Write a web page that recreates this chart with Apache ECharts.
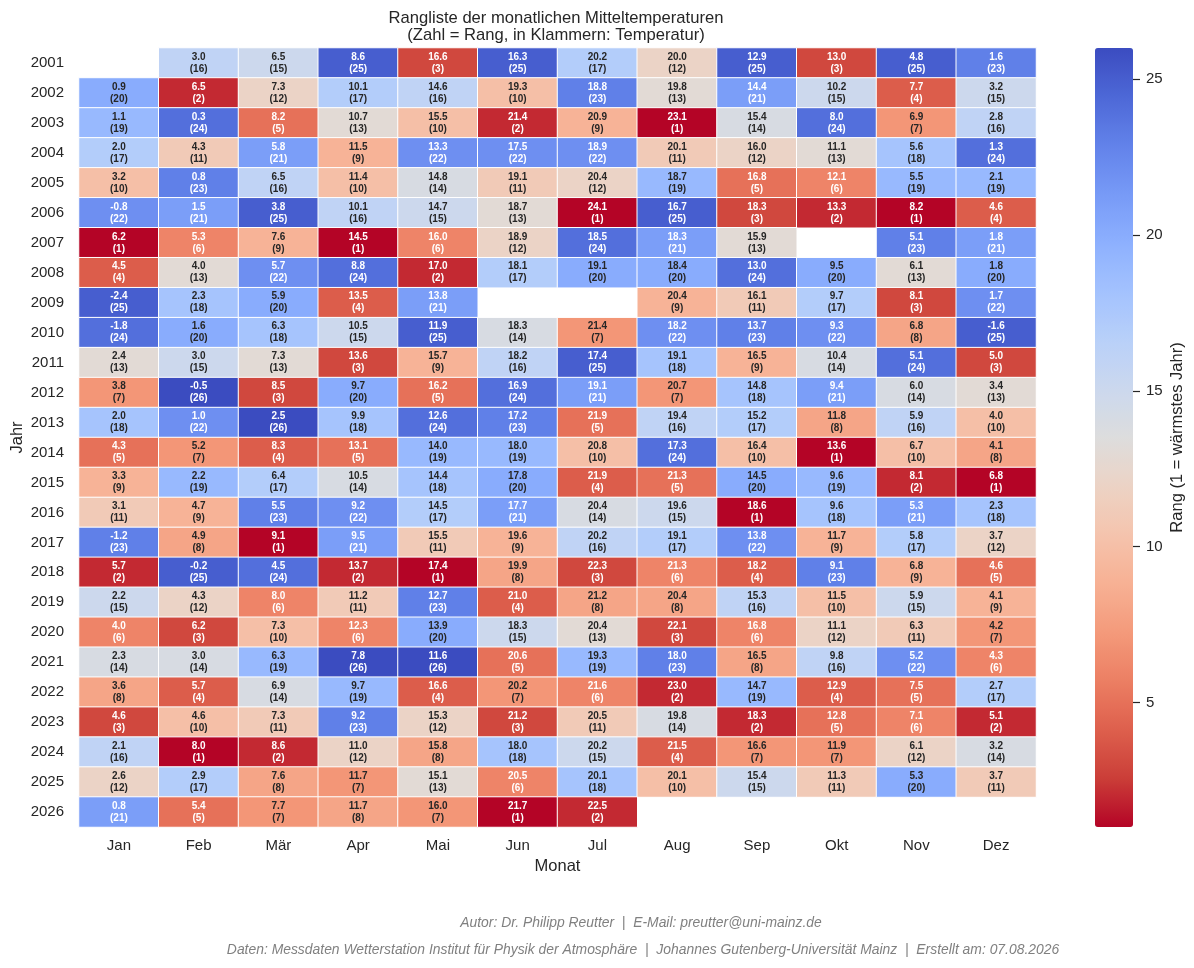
<!DOCTYPE html>
<html>
<head>
<meta charset="utf-8">
<script src="https://cdn.jsdelivr.net/npm/echarts@6/dist/echarts.min.js"></script>
<style>
html,body{margin:0;padding:0;background:#fff;}
#chart{width:1194px;height:968px;}
</style>
</head>
<body>
<div id="chart"></div>
<script>
const months = ['Jan','Feb','Mär','Apr','Mai','Jun','Jul','Aug','Sep','Okt','Nov','Dez'];
const years = ['2001','2002','2003','2004','2005','2006','2007','2008','2009','2010','2011','2012','2013',
  '2014','2015','2016','2017','2018','2019','2020','2021','2022','2023','2024','2025','2026'];
const colorbarTicks = [5, 10, 15, 20, 25];

// Monthly mean temperatures (°C), one row per year
const temperatures = [
  [null,3.0,6.5,8.6,16.6,16.3,20.2,20.0,12.9,13.0,4.8,1.6],
  [0.9,6.5,7.3,10.1,14.6,19.3,18.8,19.8,14.4,10.2,7.7,3.2],
  [1.1,0.3,8.2,10.7,15.5,21.4,20.9,23.1,15.4,8.0,6.9,2.8],
  [2.0,4.3,5.8,11.5,13.3,17.5,18.9,20.1,16.0,11.1,5.6,1.3],
  [3.2,0.8,6.5,11.4,14.8,19.1,20.4,18.7,16.8,12.1,5.5,2.1],
  [-0.8,1.5,3.8,10.1,14.7,18.7,24.1,16.7,18.3,13.3,8.2,4.6],
  [6.2,5.3,7.6,14.5,16.0,18.9,18.5,18.3,15.9,null,5.1,1.8],
  [4.5,4.0,5.7,8.8,17.0,18.1,19.1,18.4,13.0,9.5,6.1,1.8],
  [-2.4,2.3,5.9,13.5,13.8,null,null,20.4,16.1,9.7,8.1,1.7],
  [-1.8,1.6,6.3,10.5,11.9,18.3,21.4,18.2,13.7,9.3,6.8,-1.6],
  [2.4,3.0,7.3,13.6,15.7,18.2,17.4,19.1,16.5,10.4,5.1,5.0],
  [3.8,-0.5,8.5,9.7,16.2,16.9,19.1,20.7,14.8,9.4,6.0,3.4],
  [2.0,1.0,2.5,9.9,12.6,17.2,21.9,19.4,15.2,11.8,5.9,4.0],
  [4.3,5.2,8.3,13.1,14.0,18.0,20.8,17.3,16.4,13.6,6.7,4.1],
  [3.3,2.2,6.4,10.5,14.4,17.8,21.9,21.3,14.5,9.6,8.1,6.8],
  [3.1,4.7,5.5,9.2,14.5,17.7,20.4,19.6,18.6,9.6,5.3,2.3],
  [-1.2,4.9,9.1,9.5,15.5,19.6,20.2,19.1,13.8,11.7,5.8,3.7],
  [5.7,-0.2,4.5,13.7,17.4,19.9,22.3,21.3,18.2,9.1,6.8,4.6],
  [2.2,4.3,8.0,11.2,12.7,21.0,21.2,20.4,15.3,11.5,5.9,4.1],
  [4.0,6.2,7.3,12.3,13.9,18.3,20.4,22.1,16.8,11.1,6.3,4.2],
  [2.3,3.0,6.3,7.8,11.6,20.6,19.3,18.0,16.5,9.8,5.2,4.3],
  [3.6,5.7,6.9,9.7,16.6,20.2,21.6,23.0,14.7,12.9,7.5,2.7],
  [4.6,4.6,7.3,9.2,15.3,21.2,20.5,19.8,18.3,12.8,7.1,5.1],
  [2.1,8.0,8.6,11.0,15.8,18.0,20.2,21.5,16.6,11.9,6.1,3.2],
  [2.6,2.9,7.6,11.7,15.1,20.5,20.1,20.1,15.4,11.3,5.3,3.7],
  [0.8,5.4,7.7,11.7,16.0,21.7,22.5,null,null,null,null,null]
];

// Rank per month (1 = warmest year)
const ranks = [
  [null,16,15,25,3,25,17,12,25,3,25,23],
  [20,2,12,17,16,10,23,13,21,15,4,15],
  [19,24,5,13,10,2,9,1,14,24,7,16],
  [17,11,21,9,22,22,22,11,12,13,18,24],
  [10,23,16,10,14,11,12,19,5,6,19,19],
  [22,21,25,16,15,13,1,25,3,2,1,4],
  [1,6,9,1,6,12,24,21,13,null,23,21],
  [4,13,22,24,2,17,20,20,24,20,13,20],
  [25,18,20,4,21,null,null,9,11,17,3,22],
  [24,20,18,15,25,14,7,22,23,22,8,25],
  [13,15,13,3,9,16,25,18,9,14,24,3],
  [7,26,3,20,5,24,21,7,18,21,14,13],
  [18,22,26,18,24,23,5,16,17,8,16,10],
  [5,7,4,5,19,19,10,24,10,1,10,8],
  [9,19,17,14,18,20,4,5,20,19,2,1],
  [11,9,23,22,17,21,14,15,1,18,21,18],
  [23,8,1,21,11,9,16,17,22,9,17,12],
  [2,25,24,2,1,8,3,6,4,23,9,5],
  [15,12,6,11,23,4,8,8,16,10,15,9],
  [6,3,10,6,20,15,13,3,6,12,11,7],
  [14,14,19,26,26,5,19,23,8,16,22,6],
  [8,4,14,19,4,7,6,2,19,4,5,17],
  [3,10,11,23,12,3,11,14,2,5,6,2],
  [16,1,2,12,8,18,15,4,7,7,12,14],
  [12,17,8,7,13,6,18,10,15,11,20,11],
  [21,5,7,8,7,1,2,null,null,null,null,null]
];

// coolwarm_r palette (rank 1 = red, max rank = blue)
const palette = ['#b40426','#cb3e38','#de604d','#ec7f63','#f49a7b','#f7b194','#f5c4ad','#ecd3c5',
  '#dddddd','#cbd8ee','#b8d0f9','#a3c2fe','#8db0fe','#779af7','#6282ea','#4d68d7','#3b4cc0'];
const rankMin = 1, rankMax = 26;

function hexToRgb(h){ return [parseInt(h.substr(1,2),16)/255, parseInt(h.substr(3,2),16)/255, parseInt(h.substr(5,2),16)/255]; }
function colorAt(v){
  const t = Math.max(0, Math.min(1, (v - rankMin) / (rankMax - rankMin))) * (palette.length - 1);
  const i = Math.min(palette.length - 2, Math.floor(t));
  const f = t - i;
  const a = hexToRgb(palette[i]), b = hexToRgb(palette[i+1]);
  return [a[0]+(b[0]-a[0])*f, a[1]+(b[1]-a[1])*f, a[2]+(b[2]-a[2])*f];
}
function luminance(rgb){
  const l = rgb.map(c => c <= 0.03928 ? c/12.92 : Math.pow((c+0.055)/1.055, 2.4));
  return 0.2126*l[0] + 0.7152*l[1] + 0.0722*l[2];
}

const heatData = [];
years.forEach((y, yi) => {
  months.forEach((m, mi) => {
    const r = ranks[yi][mi], t = temperatures[yi][mi];
    if (r == null || t == null) return;
    const txt = luminance(colorAt(r)) > 0.408 ? '#262626' : '#ffffff';
    heatData.push({ value: [mi, yi, r, t], label: { color: txt } });
  });
});

const FONT = '"Liberation Sans", Arial, Helvetica, sans-serif';
const chart = echarts.init(document.getElementById('chart'), null, { renderer: 'canvas' });
chart.setOption({
  backgroundColor: '#ffffff',
  animation: false,
  textStyle: { fontFamily: FONT, color: '#262626' },
  title: {
    text: 'Rangliste der monatlichen Mitteltemperaturen\n(Zahl = Rang, in Klammern: Temperatur)',
    left: 551, top: 5, textAlign: 'center',
    textStyle: { fontFamily: FONT, fontSize: 16.6, fontWeight: 'normal', color: '#262626', lineHeight: 17 }
  },
  grid: [
    { left: 79, top: 48, width: 957, height: 779, containLabel: false, outerBoundsMode: 'none' },
    { left: 1095, top: 48, width: 38, height: 779, containLabel: false, outerBoundsMode: 'none' }
  ],
  xAxis: [
    {
      type: 'category', data: months, gridIndex: 0, position: 'bottom',
      axisLine: { show: false }, axisTick: { show: false }, splitLine: { show: false },
      axisLabel: { fontFamily: FONT, fontSize: 15, color: '#262626', margin: 11 },
      name: 'Monat', nameLocation: 'middle', nameGap: 31, nameMoveOverlap: false,
      nameTextStyle: { fontFamily: FONT, fontSize: 16.5, color: '#262626' }
    },
    { type: 'category', data: [''], gridIndex: 1, show: false }
  ],
  yAxis: [
    {
      type: 'category', data: years, gridIndex: 0, inverse: true,
      axisLine: { show: false }, axisTick: { show: false }, splitLine: { show: false },
      axisLabel: { fontFamily: FONT, fontSize: 15, color: '#262626', margin: 15 },
      name: 'Jahr', nameLocation: 'middle', nameGap: 53, nameRotate: 90, nameMoveOverlap: false,
      nameTextStyle: { fontFamily: FONT, fontSize: 16.5, color: '#262626' }
    },
    {
      type: 'value', gridIndex: 1, min: rankMin, max: rankMax, position: 'right',
      axisLine: { show: false }, splitLine: { show: false },
      axisTick: { show: true, length: 7, inside: false, customValues: colorbarTicks, lineStyle: { color: '#262626', width: 1.2 } },
      axisLabel: { fontFamily: FONT, fontSize: 15, color: '#262626', margin: 13, customValues: colorbarTicks },
      name: 'Rang (1 = wärmstes Jahr)', nameLocation: 'middle', nameGap: 36, nameRotate: 90,
      nameTextStyle: { fontFamily: FONT, fontSize: 16.5, color: '#262626' }
    }
  ],
  visualMap: {
    type: 'continuous', min: rankMin, max: rankMax, dimension: 2, seriesIndex: 0,
    orient: 'vertical', left: 1095, top: 48, itemWidth: 38, itemHeight: 779,
    padding: 0, calculable: false, hoverLink: false, realtime: false,
    text: null, showLabel: false,
    inRange: { color: palette }
  },
  series: [
    {
      type: 'heatmap', xAxisIndex: 0, yAxisIndex: 0,
      data: heatData,
      itemStyle: { borderColor: '#ffffff', borderWidth: 1 },
      emphasis: { disabled: true },
      label: {
        show: true, fontFamily: FONT, fontSize: 10, fontWeight: 'bold', lineHeight: 12,
        formatter: p => p.value[3].toFixed(1) + '\n(' + p.value[2] + ')'
      }
    }
  ],
  graphic: [
    { type: 'text', x: 641, y: 923, style: { text: 'Autor: Dr. Philipp Reutter  |  E-Mail: preutter@uni-mainz.de', textAlign: 'center', textVerticalAlign: 'middle', fontFamily: FONT, fontSize: 13.9, fontStyle: 'italic', fill: '#808080' } },
    { type: 'text', x: 643, y: 950, style: { text: 'Daten: Messdaten Wetterstation Institut für Physik der Atmosphäre  |  Johannes Gutenberg-Universität Mainz  |  Erstellt am: 07.08.2026', textAlign: 'center', textVerticalAlign: 'middle', fontFamily: FONT, fontSize: 13.9, fontStyle: 'italic', fill: '#808080' } }
  ]
});
</script>
</body>
</html>
